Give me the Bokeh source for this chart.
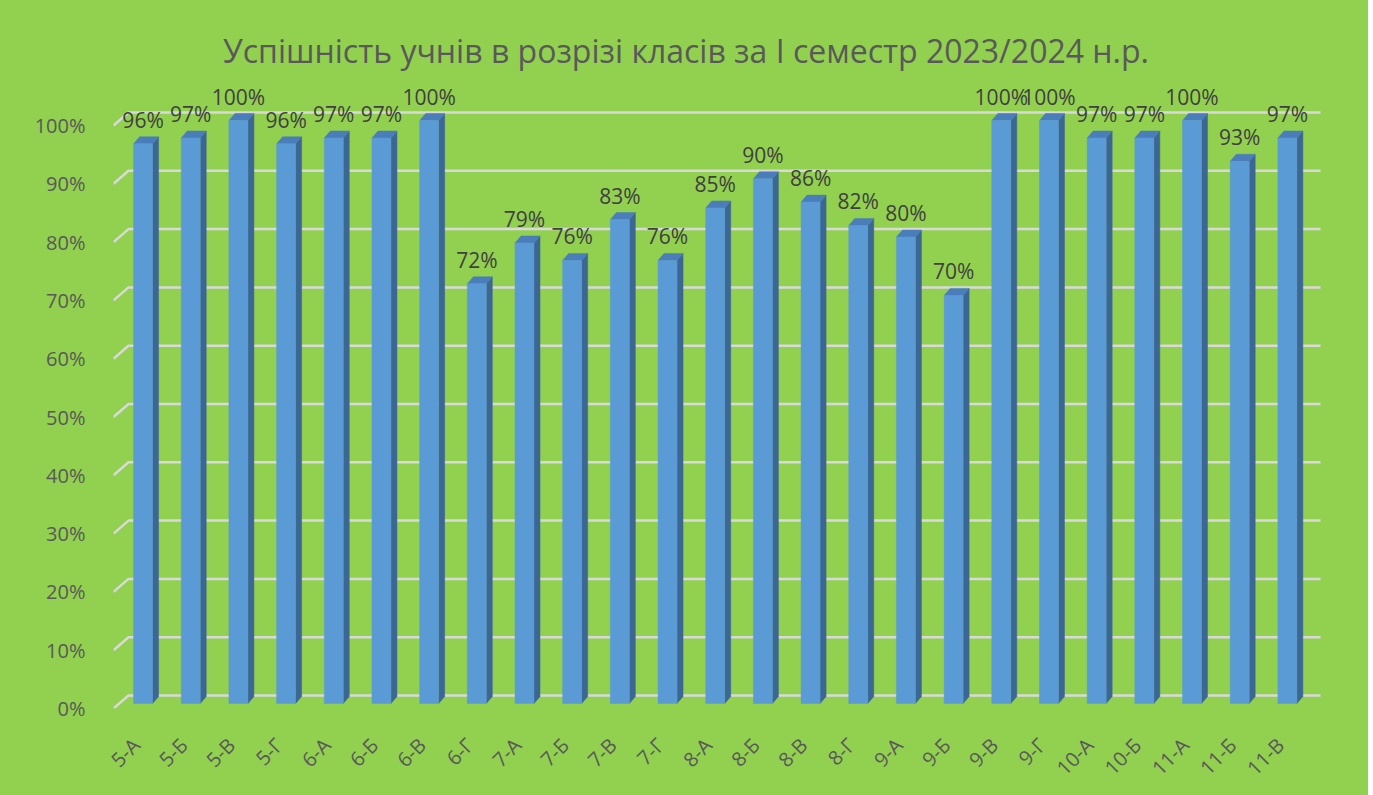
from bokeh.plotting import figure
from bokeh.models import (ColumnDataSource, Range1d, FixedTicker, PrintfTickFormatter,
                          Label, CustomJSTickFormatter)
from bokeh.embed import file_html
from bokeh.resources import INLINE
from bokeh.core.properties import value
import math

# ---- data ----
classes = ["5-А", "5-Б", "5-В", "5-Г", "6-А", "6-Б", "6-В", "6-Г", "7-А", "7-Б",
           "7-В", "7-Г", "8-А", "8-Б", "8-В", "8-Г", "9-А", "9-Б", "9-В", "9-Г",
           "10-А", "10-Б", "11-А", "11-Б", "11-В"]
success = [96, 97, 100, 96, 97, 97, 100, 72, 79, 76,
           83, 76, 85, 90, 86, 82, 80, 70, 100, 100,
           97, 97, 100, 93, 97]
y_ticks = [0, 10, 20, 30, 40, 50, 60, 70, 80, 90, 100]
title_text = "Успішність учнів в розрізі класів за І семестр 2023/2024 н.р."

# ---- style / geometry constants (pixels -> data units) ----
W, H = 1368, 795
X_PX = 47.68          # pixels per category slot
Y_PX = 5.83           # pixels per percent
FRAME_L, FRAME_R, FRAME_T, FRAME_B = 113, 28, 0, 87
frame_w = W - FRAME_L - FRAME_R
frame_h = H - FRAME_T - FRAME_B
X0 = -0.62                         # front-plane start relative to bar centre
x_end = X0 + frame_w / X_PX
y_end = frame_h / Y_PX

DXB, DYB = 15 / X_PX, 13 / Y_PX    # back-wall offset
BASE = 5 / Y_PX                     # bar floor offset
BW = 19 / X_PX                      # bar front width
DXD, DYD = 6 / X_PX, 7 / Y_PX       # bar depth offset
LBL = 24 / Y_PX                     # data label offset
XLAB_OFF = -7 / X_PX                # category label shift
TITLE_CX, TITLE_CY = 685.5, 50      # title centre on the page (px)

GREEN = "#92D050"
FRONT = "#5B9BD5"
SIDE = "#3C6792"
TOP = "#4A7EBB"
GRID = "#D9D9D9"
FONT = "Open Sans"

n = len(classes)
idx = list(range(n))

p = figure(width=W, height=H, output_backend="svg", toolbar_location=None,
           x_range=Range1d(X0, x_end), y_range=Range1d(0, y_end),
           min_border_left=FRAME_L, min_border_right=FRAME_R,
           min_border_top=FRAME_T, min_border_bottom=FRAME_B)
p.background_fill_color = None
p.border_fill_color = None
p.styles = {"background-color": GREEN}
p.outline_line_color = None
p.xgrid.visible = False
p.ygrid.visible = False

# back-wall gridlines with perspective stub
x_back_end = X0 + n + DXB
for t in y_ticks:
    p.line([X0, X0 + DXB, x_back_end], [t, t + DYB, t + DYB],
           line_color=GRID, line_width=2.5)

# bars
src = ColumnDataSource(dict(
    x=idx, cls=classes, v=success,
    top=[v + BASE for v in success],
    lbl=[f"{v}%" for v in success],
    ly=[v + BASE + LBL for v in success],
))
side_xs, side_ys, top_xs, top_ys = [], [], [], []
for i, v in zip(idx, success):
    r = i + BW / 2
    l = i - BW / 2
    tp = v + BASE
    side_xs.append([r, r + DXD, r + DXD, r])
    side_ys.append([BASE, BASE + DYD, tp + DYD, tp])
    top_xs.append([l, r, r + DXD, l + DXD])
    top_ys.append([tp, tp, tp + DYD, tp + DYD])

p.patches(side_xs, side_ys, fill_color=SIDE, line_color=SIDE, line_width=0.5)
p.patches(top_xs, top_ys, fill_color=TOP, line_color=TOP, line_width=0.5)
p.vbar(x="x", width=BW, bottom=BASE, top="top", source=src,
       fill_color=FRONT, line_color=FRONT, line_width=0.5)

p.text(x="x", y="ly", text="lbl", source=src, text_align="center",
       text_baseline="middle", text_font=value(FONT), text_font_size="21px",
       text_color="#404040")

# title
p.add_layout(Label(x=X0 + (TITLE_CX - FRAME_L) / X_PX,
                   y=(H - FRAME_B - TITLE_CY) / Y_PX,
                   text=title_text, text_align="center", text_baseline="middle",
                   text_font=FONT, text_font_size="32px", text_color="#595959"))

# axes
p.yaxis.ticker = FixedTicker(ticks=y_ticks)
p.yaxis.formatter = PrintfTickFormatter(format="%d%%")
p.yaxis.axis_line_color = None
p.yaxis.major_tick_line_color = None
p.yaxis.minor_tick_line_color = None
p.yaxis.major_label_standoff = 22
p.yaxis.major_label_text_font = FONT
p.yaxis.major_label_text_font_size = "20px"
p.yaxis.major_label_text_color = "#595959"

p.xaxis.ticker = FixedTicker(ticks=[i + XLAB_OFF for i in idx])
p.xaxis.formatter = CustomJSTickFormatter(
    args=dict(labels=classes, off=XLAB_OFF),
    code="return labels[Math.round(tick - off)];")
p.xaxis.major_label_orientation = math.pi / 4
p.xaxis.axis_line_color = None
p.xaxis.major_tick_line_color = None
p.xaxis.minor_tick_line_color = None
p.xaxis.major_label_standoff = 27
p.xaxis.major_label_text_font = FONT
p.xaxis.major_label_text_font_size = "20px"
p.xaxis.major_label_text_color = "#595959"

open("out.html", "w").write(file_html(p, INLINE))
